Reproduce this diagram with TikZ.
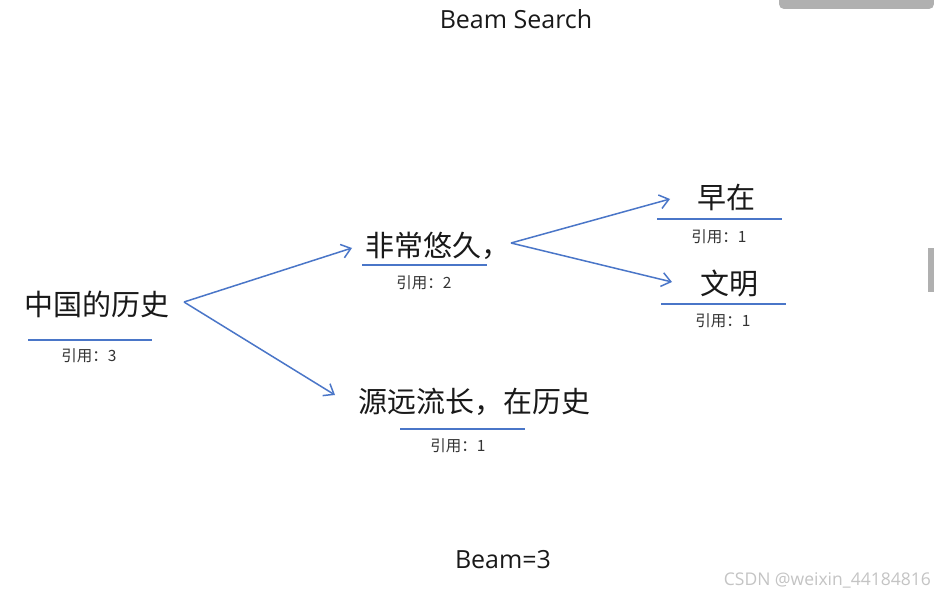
\documentclass[tikz,border=0pt]{standalone}
\usepackage{fontspec}
\setmainfont{Open Sans}
\newfontfamily\cjk{Noto Sans CJK SC}
\usetikzlibrary{arrows.meta}
\definecolor{lineblue}{HTML}{4A76C8}
\definecolor{wmgrey}{HTML}{C4C4C4}
\definecolor{bargrey}{HTML}{B0B0B0}
\tikzset{
  word/.style={inner sep=0pt, font=\cjk\fontsize{29}{32}\selectfont, text=black!90},
  cite/.style={inner sep=0pt, font=\cjk\fontsize{15.5}{17}\selectfont, text=black!80},
  uline/.style={draw=lineblue, line width=1.6pt},
  arr/.style={draw=lineblue, line width=1.5pt, -{Straight Barb[length=9pt,width=14pt,line width=1.5pt]}},
  ttl/.style={inner sep=0pt, font=\fontsize{25}{28}\selectfont, text=black!90},
}
\begin{document}
\begin{tikzpicture}[x=1pt,y=-1pt]
\useasboundingbox[fill=white] (0,0) rectangle (934,596);
% screenshot chrome
\fill[bargrey, rounded corners=5pt] (779,-10) rectangle (934,9);
\fill[bargrey] (928,248) rectangle (934,292);
% title
\node[ttl] (title) at (516,19) {Beam Search};
% words
\node[word] (a) at (97,304) {中国的历史};
\node[word] (b) at (438,246) {非常悠久，};
\node[word] (c) at (474,402) {源远流长，在历史};
\node[word] (d) at (726,197) {早在};
\node[word] (e) at (729,283) {文明};
% underlines
\coordinate (aul) at (28,340); \coordinate (aur) at (152,340);
\coordinate (bul) at (362,265); \coordinate (bur) at (487,265);
\coordinate (cul) at (400,429); \coordinate (cur) at (525,429);
\coordinate (dul) at (657,219); \coordinate (dur) at (782,219);
\coordinate (eul) at (661,304); \coordinate (eur) at (786,304);
\draw[uline] (aul) -- (aur);
\draw[uline] (bul) -- (bur);
\draw[uline] (cul) -- (cur);
\draw[uline] (dul) -- (dur);
\draw[uline] (eul) -- (eur);
% citation counts
\node[cite] (ac) at (89,356) {引用：3};
\node[cite] (bc) at (424,283) {引用：2};
\node[cite] (cc) at (458,446) {引用：1};
\node[cite] (dc) at (719,237) {引用：1};
\node[cite] (ec) at (723,321) {引用：1};
% arrows
\coordinate (aout) at (184,302);
\coordinate (bin) at (352,248);
\coordinate (cin) at (335,395);
\coordinate (bout) at (511,243);
\coordinate (din) at (670,199);
\coordinate (ein) at (672,282);
\draw[arr] (aout) -- (bin);
\draw[arr] (aout) -- (cin);
\draw[arr] (bout) -- (din);
\draw[arr] (bout) -- (ein);
% beam
\node[ttl] (beam) at (503,560) {Beam=3};
% watermark
\node[inner sep=0pt, anchor=east, font=\fontsize{17.5}{20}\selectfont, text=wmgrey] (wm) at (931,580) {CSDN @weixin\_44184816};
\end{tikzpicture}
\end{document}
